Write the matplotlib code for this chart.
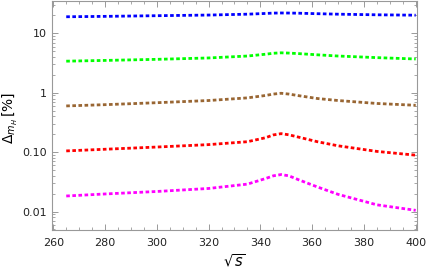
import matplotlib
matplotlib.use("Agg")
import matplotlib.pyplot as plt
from matplotlib.ticker import FixedLocator, FixedFormatter, LogLocator, NullFormatter, MultipleLocator

x = [265, 280, 300, 320, 335, 342, 345, 348, 351, 355, 362, 370, 385, 400]
blue = [19.0, 19.3, 19.8, 20.3, 21.0, 21.6, 21.9, 22.0, 21.95, 21.8, 21.4, 21.0, 20.5, 20.2]
green = [3.4, 3.5, 3.65, 3.85, 4.15, 4.45, 4.62, 4.7, 4.65, 4.55, 4.35, 4.15, 3.9, 3.7]
brown = [0.60, 0.63, 0.68, 0.74, 0.82, 0.90, 0.95, 0.98, 0.95, 0.89, 0.80, 0.74, 0.66, 0.615]
red = [0.105, 0.112, 0.122, 0.134, 0.150, 0.175, 0.195, 0.205, 0.196, 0.178, 0.150, 0.128, 0.103, 0.089]
magenta = [0.0183, 0.0198, 0.0218, 0.0245, 0.029, 0.036, 0.040, 0.042, 0.040, 0.034, 0.026, 0.0195, 0.013, 0.0105]

series = [blue, green, brown, red, magenta]
colors = ["#0000ff", "#00ff00", "#996633", "#ff0000", "#ff00ff"]

xticks = [260, 280, 300, 320, 340, 360, 380, 400]
yticks = [0.01, 0.1, 1, 10]
ylabels = ["0.01", "0.10", "1", "10"]

fig = plt.figure(figsize=(4.27, 2.74), dpi=100)
ax = fig.add_axes([52/427, 44/274, (417-52)/427, (273-44)/274])

for s, c in zip(series, colors):
    ax.plot(x, s, color=c, lw=2.0, linestyle=(0, (1.3, 0.9)))

ax.set_yscale("log")
ax.set_xlim(259.5, 400.5)
ax.set_ylim(0.0049, 35)
ax.xaxis.set_major_locator(FixedLocator(xticks))
ax.xaxis.set_minor_locator(MultipleLocator(5))
ax.yaxis.set_major_locator(FixedLocator(yticks))
ax.yaxis.set_major_formatter(FixedFormatter(ylabels))
ax.yaxis.set_minor_locator(LogLocator(base=10, subs=range(2, 10)))
ax.yaxis.set_minor_formatter(NullFormatter())

gray = "#999999"
for sp in ax.spines.values():
    sp.set_color(gray)
    sp.set_linewidth(0.8)
ax.tick_params(which="both", direction="in", top=True, right=True, color=gray, labelsize=8, labelcolor="#222222")
ax.tick_params(which="major", length=4, width=0.7)
ax.tick_params(which="minor", length=2.2, width=0.6)
ax.tick_params(axis="x", pad=6)

ax.set_xlabel(r"$\sqrt{s}$", fontsize=10.5, labelpad=3)
ax.set_ylabel(r"$\Delta_{m_H}\,[\%]$", fontsize=10, va="center")
ax.yaxis.set_label_coords(-0.115, 0.49)

fig.savefig("out.png", dpi=100)
